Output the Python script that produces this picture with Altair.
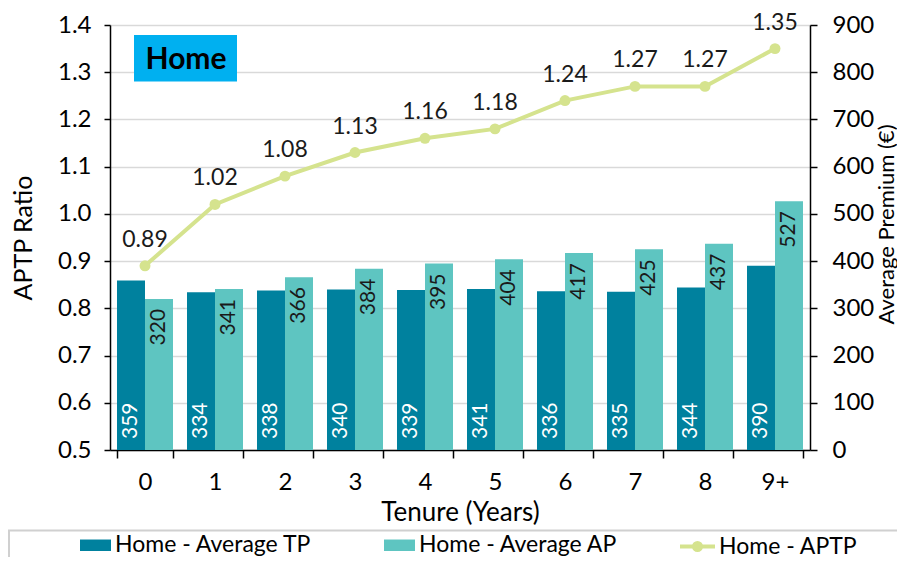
import altair as alt
import pandas as pd

tenure = ["0", "1", "2", "3", "4", "5", "6", "7", "8", "9+"]
avg_tp = [359, 334, 338, 340, 339, 341, 336, 335, 344, 390]
avg_ap = [320, 341, 366, 384, 395, 404, 417, 425, 437, 527]
aptp = [0.89, 1.02, 1.08, 1.13, 1.16, 1.18, 1.24, 1.27, 1.27, 1.35]

s_tp = "Home - Average TP"
s_ap = "Home - Average AP"
s_line = "Home - APTP"

c_tp = "#00819E"
c_ap = "#5EC5C1"
c_line = "#D5E38E"
c_box = "#00B0F0"
FONT = "Lato"

bars_df = pd.DataFrame({
    "tenure": tenure * 2,
    "series": [s_tp] * len(tenure) + [s_ap] * len(tenure),
    "value": avg_tp + avg_ap,
})
bars_df["base"] = 0
line_df = pd.DataFrame({"tenure": tenure, "aptp": aptp, "series": s_line})

x_enc = alt.X(
    "tenure:N", sort=tenure,
    scale=alt.Scale(paddingInner=0.2, paddingOuter=0.1),
    axis=alt.Axis(title="Tenure (Years)", labelAngle=0, tickBand="extent",
                  tickSize=8, labelPadding=12, titlePadding=5, grid=False,
                  labelFontSize=24, titleFontSize=26),
)
xo_enc = alt.XOffset("series:N", sort=[s_tp, s_ap],
                     scale=alt.Scale(paddingInner=0, paddingOuter=0))

y_bar_scale = alt.Scale(domain=[0, 900], nice=False)
y_bar_axis = alt.Axis(orient="right", values=list(range(0, 901, 100)),
                      title="Average Premium (€)", grid=False, tickSize=7,
                      labelPadding=15, titleAngle=270, titleBaseline="top",
                      titleAlign="center", titleX=66, titleY=199,
                      labelFontSize=24, titleFontSize=22)

bar_path = "M-1,-0.37H1V0.37H-1Z"
line_path = "M-1,0H1M0.2,0A0.2,0.2,0,1,1,-0.2,0A0.2,0.2,0,1,1,0.2,0Z"

bars = alt.Chart(bars_df).mark_bar().encode(
    x=x_enc,
    xOffset=xo_enc,
    y=alt.Y("value:Q", scale=y_bar_scale, axis=y_bar_axis),
    color=alt.Color(
        "series:N",
        scale=alt.Scale(domain=[s_tp, s_ap], range=[c_tp, c_ap]),
        legend=alt.Legend(orient="none", legendX=-30, legendY=504.5,
                          direction="horizontal", title=None,
                          symbolType=bar_path, symbolSize=961,
                          symbolStrokeWidth=0, labelFontSize=23,
                          labelOffset=4, columnPadding=72, padding=0,
                          labelLimit=400,
                          labelColor="black", labelFont=FONT),
    ),
)

tp_text = alt.Chart(bars_df).transform_filter(
    alt.datum.series == s_tp
).mark_text(angle=270, align="left", baseline="middle", dx=11,
            color="white", fontSize=21, font=FONT).encode(
    x=x_enc, xOffset=xo_enc,
    y=alt.Y("base:Q", scale=y_bar_scale, axis=y_bar_axis),
    text=alt.Text("value:Q"),
)

ap_text = alt.Chart(bars_df).transform_filter(
    alt.datum.series == s_ap
).mark_text(angle=270, align="right", baseline="middle", dx=-10,
            color="#1a1a1a", fontSize=21, font=FONT).encode(
    x=x_enc, xOffset=xo_enc,
    y=alt.Y("value:Q", scale=y_bar_scale, axis=y_bar_axis),
    text=alt.Text("value:Q"),
)

bar_layer = alt.layer(bars, tp_text, ap_text)

y_line_scale = alt.Scale(domain=[0.5, 1.4], nice=False)
y_line_axis = alt.Axis(orient="left", values=[round(0.5 + 0.1 * i, 1) for i in range(10)],
                       format=".1f", title="APTP Ratio", grid=True,
                       gridColor="#D9D9D9", gridWidth=1.5, tickSize=6,
                       labelPadding=13, titlePadding=21,
                       labelFontSize=24, titleFontSize=25)

line = alt.Chart(line_df).mark_line(strokeWidth=4).encode(
    x=x_enc,
    y=alt.Y("aptp:Q", scale=y_line_scale, axis=y_line_axis),
    stroke=alt.Stroke(
        "series:N",
        scale=alt.Scale(domain=[s_line], range=[c_line]),
        legend=alt.Legend(orient="none", legendX=568, legendY=502,
                          title=None, symbolType=line_path, symbolSize=1225,
                          symbolStrokeWidth=4, symbolFillColor=c_line,
                          labelFontSize=23, labelOffset=2, padding=0,
                          labelLimit=400,
                          labelColor="black", labelFont=FONT),
    ),
)

points = alt.Chart(line_df).mark_circle(size=120, color=c_line, opacity=1).encode(
    x=x_enc,
    y=alt.Y("aptp:Q", scale=y_line_scale, axis=y_line_axis),
)

line_text = alt.Chart(line_df).mark_text(
    baseline="alphabetic", dy=-19, fontSize=23, font=FONT, color="#1a1a1a"
).encode(
    x=x_enc,
    y=alt.Y("aptp:Q", scale=y_line_scale, axis=y_line_axis),
    text=alt.Text("aptp:Q", format=".2f"),
)

box_df = pd.DataFrame({"label": ["Home"]})
box = alt.Chart(box_df).mark_rect(color=c_box).encode(
    x=alt.value(24), x2=alt.value(127), y=alt.value(10), y2=alt.value(56.5)
)
box_text = alt.Chart(box_df).mark_text(
    fontSize=30, fontWeight="bold", font=FONT, color="black",
    baseline="alphabetic", align="center"
).encode(x=alt.value(76), y=alt.value(44.3), text="label:N")

frame = alt.Chart(box_df).mark_rect(fillOpacity=0, stroke="#D0D0D0", strokeWidth=2).encode(
    x=alt.value(-101), x2=alt.value(1000), y=alt.value(505.5), y2=alt.value(700)
)

line_layer = alt.layer(line, points, line_text, box, box_text, frame)

chart = alt.layer(bar_layer, line_layer).resolve_scale(
    y="independent"
).properties(
    width=700, height=425,
    autosize=alt.AutoSizeParams(type="none"),
    padding={"left": 102, "top": 17, "right": 87, "bottom": 107},
).configure_axis(
    labelFont=FONT, titleFont=FONT, labelColor="black", titleColor="black",
    domainColor="black", tickColor="black",
    titleFontWeight="normal", domainWidth=1.5, tickWidth=1.5,
).configure_view(strokeWidth=0)

chart.save("out.html", embed_options={"renderer": "svg", "actions": False})
